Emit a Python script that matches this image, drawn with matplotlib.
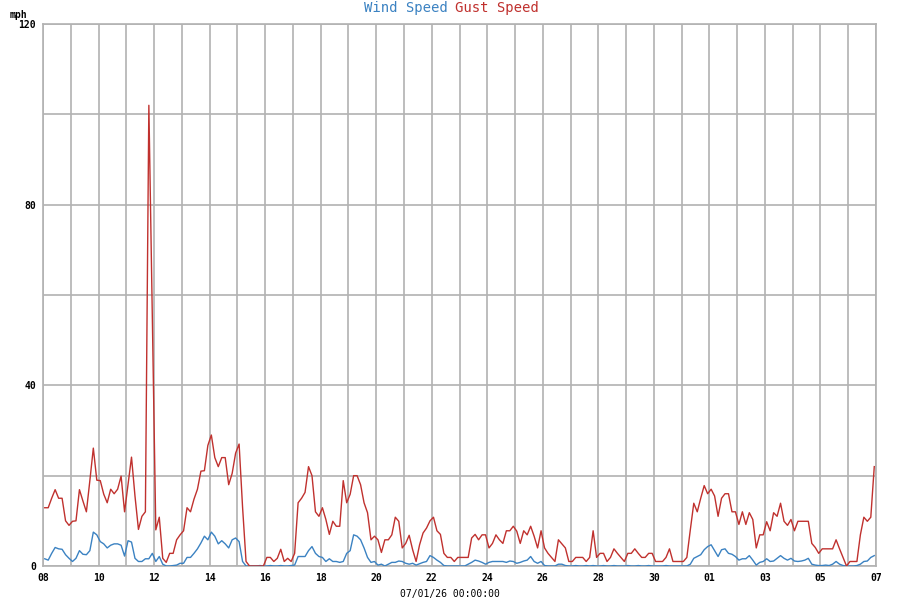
import pandas as pd
import matplotlib
matplotlib.use("Agg")
import matplotlib.pyplot as plt

# 3-hourly samples (mph)
wind_speed = [
    1.6, 1.3, 2.8, 4.1, 3.8, 3.7, 2.5, 1.7, 1, 1.7,
    3.4, 2.6, 2.5, 3.4, 7.5, 6.9, 5.4, 4.9, 4, 4.6,
    4.9, 4.9, 4.6, 2.2, 5.6, 5.3, 1.7, 1, 1, 1.6,
    1.6, 2.8, 1, 2.1, 0.4, 0, 0, 0.1, 0.2, 0.6,
    0.6, 1.9, 1.9, 2.8, 3.8, 5.1, 6.6, 5.8, 7.5, 6.6,
    4.9, 5.6, 4.9, 4, 5.8, 6.2, 5.4, 1, 0, 0,
    0, 0, 0.1, 0, 0, 0.1, 0, 0, 0.1, 0,
    0, 0.1, 0.2, 2.1, 2.1, 2.1, 3.4, 4.3, 2.8, 2.1,
    1.9, 1, 1.6, 1, 1, 0.8, 1, 2.8, 3.4, 6.9,
    6.6, 5.8, 4, 1.9, 0.8, 1, 0.2, 0.4, 0, 0.4,
    0.8, 0.8, 1.1, 1, 0.6, 0.4, 0.6, 0.2, 0.5, 0.8,
    1, 2.3, 1.9, 1.3, 0.8, 0.1, 0, 0, 0, 0,
    0, 0, 0.4, 0.8, 1.3, 1.1, 0.8, 0.4, 0.8, 1,
    1, 1, 1, 0.8, 1.1, 1, 0.6, 0.8, 1.1, 1.3,
    2.1, 1, 0.6, 1, 0.1, 0, 0, 0, 0.4, 0.4,
    0.1, 0, 0, 0.1, 0, 0, 0.1, 0, 0.1, 0,
    0, 0.1, 0, 0, 0.1, 0, 0, 0, 0.1, 0,
    0, 0.1, 0, 0, 0.1, 0, 0, 0, 0, 0.1,
    0, 0, 0, 0, 0, 0, 0.4, 1.7, 2.1, 2.5,
    3.6, 4.3, 4.7, 3.4, 2.1, 3.6, 3.8, 2.8, 2.6, 2.1,
    1.3, 1.6, 1.6, 2.3, 1.3, 0.2, 0.8, 1, 1.6, 1,
    1.1, 1.7, 2.3, 1.7, 1.3, 1.7, 1.1, 1, 1.1, 1.3,
    1.7, 0.4, 0.2, 0.1, 0.1, 0.2, 0.1, 0.4, 1, 0.4,
    0.1, 0, 0, 0, 0.1, 0.4, 1, 1.1, 1.9, 2.3,
]

gust_speed = [
    12.9, 12.9, 15, 16.9, 15, 15, 10, 9, 9.9, 10,
    16.9, 14.4, 12, 18.9, 26.1, 19, 18.9, 15.9, 14, 17,
    16, 17, 19.9, 12, 18.1, 24.1, 15.5, 8.1, 11, 12,
    102, 55, 8, 10.8, 1.7, 0.8, 2.8, 2.8, 5.8, 6.9,
    7.8, 12.9, 12, 14.8, 17, 21, 21.1, 26.7, 29, 24,
    22, 24, 24, 18, 20.5, 25, 27, 13, 1, 0,
    0, 0, 0, 0, 1.9, 1.9, 1, 1.7, 3.7, 1,
    1.7, 1, 2.8, 14, 15, 16.3, 22, 20, 12, 11,
    12.9, 10.3, 7, 9.9, 8.8, 8.8, 18.9, 14, 15.9, 20,
    20, 18, 14, 11.8, 5.8, 6.6, 5.8, 3, 5.8, 5.8,
    6.9, 10.8, 9.9, 4, 5, 6.8, 3.6, 1, 4.7, 7.3,
    8.4, 10, 10.8, 7.8, 7, 2.8, 1.9, 1.9, 1, 1.9,
    1.9, 1.9, 1.9, 6.2, 7, 5.8, 6.9, 6.9, 4, 5,
    6.9, 5.8, 5, 7.8, 7.8, 8.8, 7.7, 5, 7.8, 6.9,
    8.8, 6.6, 4, 7.8, 4, 2.8, 1.9, 1, 5.8, 4.9,
    4, 1, 1, 1.9, 1.9, 1.9, 1, 1.9, 7.8, 1.9,
    2.8, 2.8, 1, 1.9, 3.8, 2.8, 1.9, 1, 2.8, 2.8,
    3.8, 2.8, 1.9, 1.9, 2.8, 2.8, 1, 1, 1, 1.9,
    3.8, 1, 1, 1, 1, 1.9, 8, 13.9, 12, 15,
    17.8, 16, 17, 15.5, 11, 15, 16, 16, 12, 12,
    9.2, 12, 9.2, 11.8, 10.3, 4, 6.9, 6.9, 9.8, 7.8,
    11.8, 11, 13.9, 9.9, 9, 10.3, 7.8, 9.9, 9.9, 9.9,
    9.9, 5, 4.1, 2.8, 3.8, 3.8, 3.8, 3.8, 5.8, 3.8,
    1.9, 0, 1, 1, 1, 6.9, 10.8, 9.9, 10.8, 22,
]

first_sample = "2026-05-08 01:30"
x_start = "2026-05-08"
x_end = "2026-06-07"
y_ticks = [0, 40, 80, 120]
y_grid = [20, 60, 100]
x_label = "07/01/26 00:00:00"

WIND_COLOR = "#3b82c2"
GUST_COLOR = "#c0312e"
GRID_COLOR = "#b2b2b2"
FONT = "DejaVu Sans Mono"

times = pd.date_range(first_sample, periods=len(gust_speed), freq="3h")

fig = plt.figure(figsize=(9, 6), dpi=100)
ax = fig.add_axes([43 / 900, 34 / 600, 833 / 900, 542 / 600])

ax.plot(times, wind_speed, color=WIND_COLOR, lw=1.0, zorder=3)
ax.plot(times, gust_speed, color=GUST_COLOR, lw=1.0, zorder=4)

ax.set_xlim(pd.Timestamp(x_start), pd.Timestamp(x_end))
ax.set_ylim(0, 120)

major_days = pd.date_range(x_start, x_end, freq="2D")
minor_days = pd.date_range(x_start, x_end, freq="1D")
ax.set_xticks(major_days)
ax.set_xticklabels([d.strftime("%d") for d in major_days])
ax.set_xticks(minor_days, minor=True)
ax.set_yticks(y_ticks)
ax.set_yticks(y_grid, minor=True)

ax.grid(which="both", color=GRID_COLOR, lw=1.2, zorder=0)
ax.set_axisbelow(True)
for s in ax.spines.values():
    s.set_color(GRID_COLOR)
    s.set_linewidth(1.2)

ax.tick_params(which="both", length=0)
ax.tick_params(axis="x", pad=5)
ax.tick_params(axis="y", pad=5)
for lbl in ax.get_xticklabels() + ax.get_yticklabels():
    lbl.set_family(FONT)
    lbl.set_fontsize(7)
    lbl.set_fontweight("bold")

fig.text(448 / 900, 1 - 8 / 600, "Wind Speed", color=WIND_COLOR, ha="right",
         va="center", family=FONT, fontsize=10)
fig.text(455 / 900, 1 - 8 / 600, "Gust Speed", color=GUST_COLOR, ha="left",
         va="center", family=FONT, fontsize=10)
fig.text(10 / 900, 1 - 15 / 600, "mph", ha="left", va="center",
         family=FONT, fontsize=7, fontweight="bold")
fig.text(450 / 900, 1 - 594 / 600, x_label, ha="center", va="center",
         family=FONT, fontsize=7)

fig.savefig("out.png", dpi=100)
